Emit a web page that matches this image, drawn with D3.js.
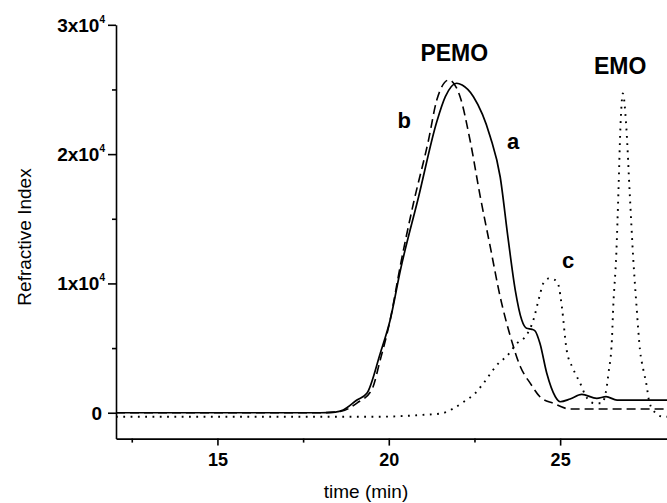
<!DOCTYPE html>
<html>
<head>
<meta charset="utf-8">
<script src="https://cdn.jsdelivr.net/npm/d3@7"></script>
<style>
  html, body { margin: 0; padding: 0; background: #fff; }
  svg { display: block; }
  text { font-family: "Liberation Sans", Arial, sans-serif; fill: #000; }
</style>
</head>
<body>
<svg id="chart" width="667" height="503"></svg>
<script>
// ---- data ----
// a: solid
const timeA = [12.04, 14, 16, 18.0, 18.44, 18.67, 19.07, 19.36, 19.75, 20.04, 20.34, 20.87, 21.40, 21.65, 21.98, 22.14, 22.47, 22.96, 23.25, 23.48, 23.69, 23.88, 24.02, 24.18, 24.27, 24.41, 24.61, 24.86, 25.0, 25.29, 25.63, 26.07, 26.34, 26.66, 28.2];
const valA  = [0, 0, 0, 0, 50, 210, 980, 1500, 4590, 7170, 11040, 16700, 22500, 24440, 25480, 25340, 24440, 21350, 18250, 13500, 9490, 7170, 6530, 6450, 6320, 5370, 3050, 1240, 850, 1060, 1420, 1110, 1240, 980, 980];

// b: dashed
const timeB = [12.04, 14, 16, 18.0, 18.58, 19.07, 19.50, 19.75, 20.04, 20.34, 20.72, 21.16, 21.40, 21.75, 22.08, 22.37, 22.67, 22.96, 23.25, 23.55, 23.84, 24.13, 24.41, 24.80, 25.29, 28.2];
const valB  = [0, 0, 0, 0, 90, 750, 1760, 4080, 7170, 11420, 16200, 21090, 24180, 25730, 24440, 21090, 16700, 12840, 8970, 5880, 3560, 2270, 1240, 730, 290, 290];

// c: dotted (c + EMO)
const timeC = [12.04, 19.65, 20.91, 21.55, 21.89, 22.18, 22.52, 22.76, 23.20, 23.45, 23.74, 24.02, 24.22, 24.37, 24.51, 24.67, 24.86, 24.95, 25.05, 25.19, 25.35, 25.49, 25.63, 25.73, 25.98, 26.21, 26.36, 26.41, 26.51, 26.55, 26.64, 26.70, 26.76, 26.83, 26.93, 27.03, 27.13, 27.23, 27.33, 27.43, 27.53, 27.58, 27.71, 28.01, 28.2];
const valC  = [-310, -310, -180, -50, 340, 830, 1500, 2270, 3820, 4390, 5370, 6010, 7170, 8720, 10010, 10390, 10260, 9880, 8200, 4850, 3560, 2780, 2010, 1370, 750, 730, 2000, 3050, 5620, 8200, 12350, 16990, 22120, 24700, 22120, 16990, 12060, 8200, 4850, 3300, 2010, 1110, 210, -310, -310];

const xMajorTicks = [15, 20, 25];
const xMinorTicks = [12.5, 17.5, 22.5];
const yMajorTicks = [0, 10000, 20000, 30000];
const yMajorLabels = ["0", "1x10", "2x10", "3x10"];
const yMajorSup = ["", "4", "4", "4"];
const yMinorTicks = [5000, 15000, 25000];

const annotations = [
  { text: "PEMO", t: 21.91, v: 27200, size: 23 },
  { text: "EMO",  t: 26.75, v: 26200, size: 23 },
  { text: "b",    t: 20.45, v: 22000, size: 22 },
  { text: "a",    t: 23.63, v: 20400, size: 22 },
  { text: "c",    t: 25.23, v: 11200, size: 22 }
];

const xTitle = "time (min)";
const yTitle = "Refractive Index";

// ---- layout ----
const svg = d3.select("#chart");
const x = d3.scaleLinear().domain([12.04, 28.2]).range([116, 116 + 16.16 * 34.27]);
const y = d3.scaleLinear().domain([-2000, 30000]).range([438.6, 24.8]);

const axisStroke = 1.6;

// x axis
const gx = svg.append("g").attr("transform", `translate(0,${y(-2000)})`);
gx.call(d3.axisBottom(x).tickValues(xMajorTicks).tickSize(7).tickSizeOuter(0).tickPadding(6).tickFormat(d3.format("d")));
const gxm = svg.append("g").attr("transform", `translate(0,${y(-2000)})`);
gxm.call(d3.axisBottom(x).tickValues(xMinorTicks).tickSize(4).tickSizeOuter(0).tickFormat(""));
gxm.select(".domain").remove();
[gx, gxm].forEach(g => {
  g.selectAll("path,line").attr("stroke", "#000").attr("stroke-width", axisStroke);
});
gx.selectAll("text")
  .attr("font-size", 18).attr("font-weight", "bold")
  .attr("font-family", "Liberation Sans, Arial, sans-serif")
  .attr("y", 27.5).attr("dy", null);

// y axis
const gy = svg.append("g").attr("transform", `translate(${x(12.04)},0)`);
gy.call(d3.axisLeft(y).tickValues(yMajorTicks).tickSize(8).tickSizeOuter(0).tickFormat(""));
const gym = svg.append("g").attr("transform", `translate(${x(12.04)},0)`);
gym.call(d3.axisLeft(y).tickValues(yMinorTicks).tickSize(4).tickSizeOuter(0).tickFormat(""));
gym.select(".domain").remove();
[gy, gym].forEach(g => {
  g.selectAll("path,line").attr("stroke", "#000").attr("stroke-width", axisStroke);
});

yMajorTicks.forEach((v, i) => {
  const t = svg.append("text")
    .attr("x", yMajorSup[i] ? 105 : 102)
    .attr("y", y(v) + 7)
    .attr("text-anchor", "end")
    .attr("font-size", 19)
    .attr("font-weight", "bold")
    .text(yMajorLabels[i]);
  if (yMajorSup[i]) {
    t.append("tspan").attr("font-size", 10).attr("dy", -9).text(yMajorSup[i]);
  }
});

// titles
svg.append("text")
  .attr("x", 366).attr("y", 498)
  .attr("text-anchor", "middle")
  .attr("font-size", 19)
  .text(xTitle);
svg.append("text")
  .attr("transform", "translate(31,237) rotate(-90)")
  .attr("text-anchor", "middle")
  .attr("font-size", 19)
  .text(yTitle);

// curves
const line = d3.line().x(d => x(d[0])).y(d => y(d[1])).curve(d3.curveMonotoneX);
const series = [
  { t: timeA, v: valA, dash: null, w: 1.7 },
  { t: timeB, v: valB, dash: "9,5", w: 1.6 },
  { t: timeC, v: valC, dash: "1.8,5.5", w: 1.9 }
];
series.forEach(s => {
  svg.append("path")
    .datum(s.t.map((t, i) => [t, s.v[i]]))
    .attr("d", line)
    .attr("fill", "none")
    .attr("stroke", "#000")
    .attr("stroke-width", s.w)
    .attr("stroke-dasharray", s.dash);
});

// annotations
annotations.forEach(a => {
  svg.append("text")
    .attr("x", x(a.t)).attr("y", y(a.v))
    .attr("text-anchor", "middle")
    .attr("font-size", a.size)
    .attr("font-weight", "bold")
    .text(a.text);
});
</script>
</body>
</html>
